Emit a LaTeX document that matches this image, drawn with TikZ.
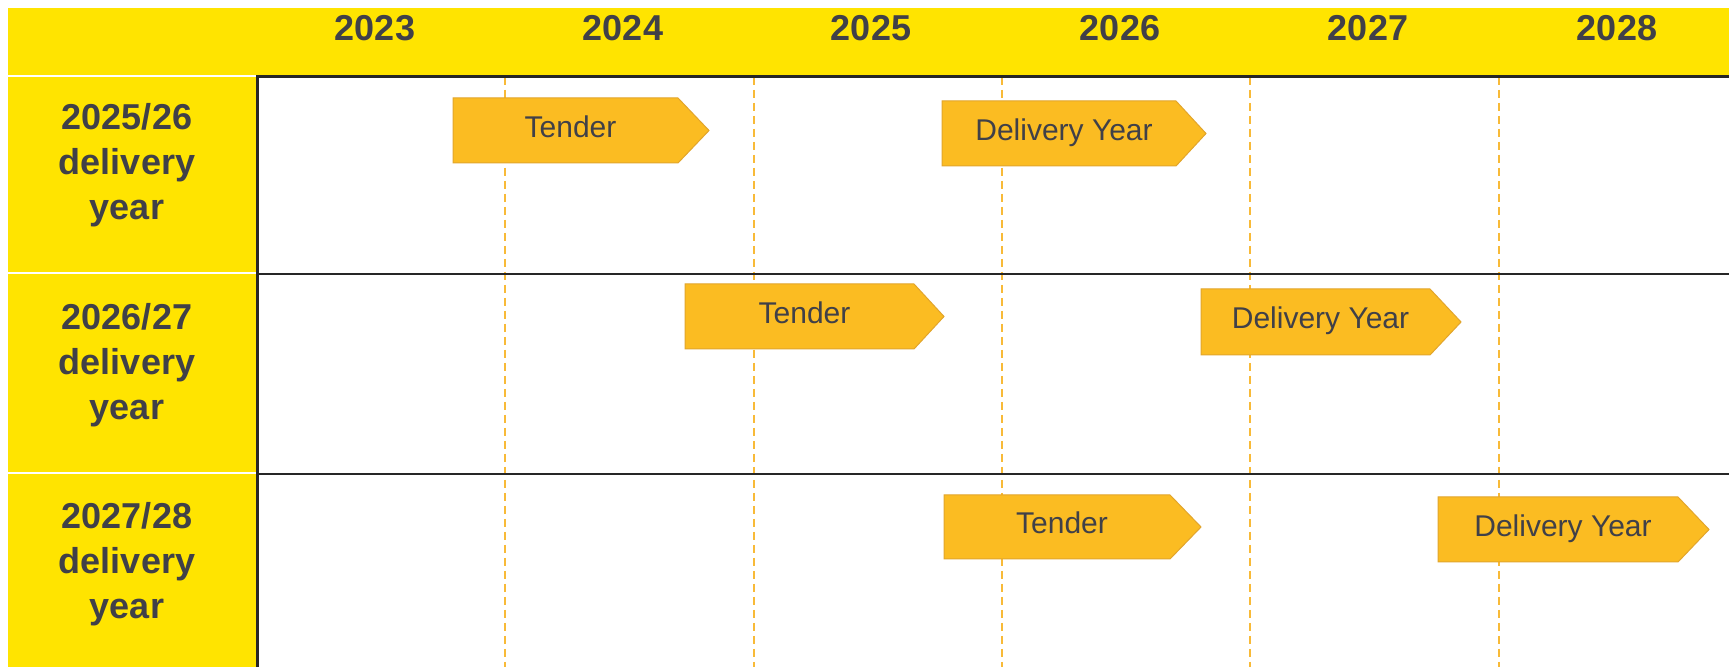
\documentclass[tikz,border=0pt]{standalone}
\usepackage{fontspec}
\setmainfont{Liberation Sans}
\definecolor{hdr}{HTML}{FFE400}
\definecolor{amber}{HTML}{FBBC22}
\definecolor{amberedge}{HTML}{E2A52C}
\definecolor{dashc}{HTML}{F8BA38}
\definecolor{txt}{HTML}{404048}
\definecolor{gridc}{HTML}{262626}
\newcommand\phasearrow[7]{%
  \filldraw[phase] (#2,#3) -- (#4,#3) -- (#5,{(#3+#6)/2}) -- (#4,#6) -- (#2,#6) -- cycle;
  \node[phasetext] (#1) at ({(#2+#4)/2+5},{(#3+#6)/2+7}) {#7};
}
\begin{document}
\begin{tikzpicture}[x=0.5pt,y=-0.5pt,
  yearlabel/.style={text=txt, font=\bfseries\fontsize{18}{22}\selectfont, anchor=base, inner sep=0pt},
  rowlabel/.style={text=txt, font=\bfseries\fontsize{18}{22.5}\selectfont, align=center, inner sep=0pt},
  phase/.style={fill=amber, draw=amberedge, line width=0.5pt},
  phasetext/.style={text=txt, font=\fontsize{15}{18}\selectfont, anchor=base, inner sep=0pt},
  yeardash/.style={draw=dashc, line width=1pt, dash pattern=on 4pt off 2.5pt},
  gridline/.style={draw=gridc, line width=1.2pt}]
\useasboundingbox (0,0) rectangle (1729,667);
\fill[white] (0,0) rectangle (1729,667);
% header and left column
\fill[hdr] (8,8) rectangle (1729,75.5);
\fill[hdr] (8,77.5) rectangle (256,272.5);
\fill[hdr] (8,274.5) rectangle (256,472.5);
\fill[hdr] (8,474.5) rectangle (256,667);
% year labels
\node[yearlabel] (y2023) at (375,41) {2023};
\node[yearlabel] (y2024) at (623,41) {2024};
\node[yearlabel] (y2025) at (871,41) {2025};
\node[yearlabel] (y2026) at (1120,41) {2026};
\node[yearlabel] (y2027) at (1368,41) {2027};
\node[yearlabel] (y2028) at (1617,41) {2028};
% dashed year boundaries
\foreach \x/\n in {505/a,754/b,1002/c,1250/d,1499/e}{
  \coordinate (top\n) at (\x,77);
  \coordinate (bot\n) at (\x,667);
  \draw[yeardash] (top\n) -- (bot\n);
}
% grid lines
\coordinate (g0l) at (256,76.5); \coordinate (g0r) at (1729,76.5);
\coordinate (g1l) at (256,273.8); \coordinate (g1r) at (1729,273.8);
\coordinate (g2l) at (256,473.8); \coordinate (g2r) at (1729,473.8);
\coordinate (vb) at (257.5,667);
\draw[gridline] (g0l) -- (g0r);
\draw[gridline] (g1l) -- (g1r);
\draw[gridline] (g2l) -- (g2r);
\draw[gridline] (257.5,76.5) -- (vb);
% row labels
\node[rowlabel] (r1) at (127,165.5) {2025/26\\delivery\\year};
\node[rowlabel] (r2) at (127,365) {2026/27\\delivery\\year};
\node[rowlabel] (r3) at (127,564) {2027/28\\delivery\\year};
% phase arrows
\phasearrow{t1}{453}{98}{678}{709}{163}{Tender}
\phasearrow{d1}{942}{101}{1176}{1206}{166}{Delivery Year}
\phasearrow{t2}{685}{284}{914}{944}{349}{Tender}
\phasearrow{d2}{1201}{289}{1430}{1461}{355}{Delivery Year}
\phasearrow{t3}{944}{495}{1170}{1201}{559}{Tender}
\phasearrow{d3}{1438}{497}{1678}{1709}{562}{Delivery Year}
\end{tikzpicture}
\end{document}
